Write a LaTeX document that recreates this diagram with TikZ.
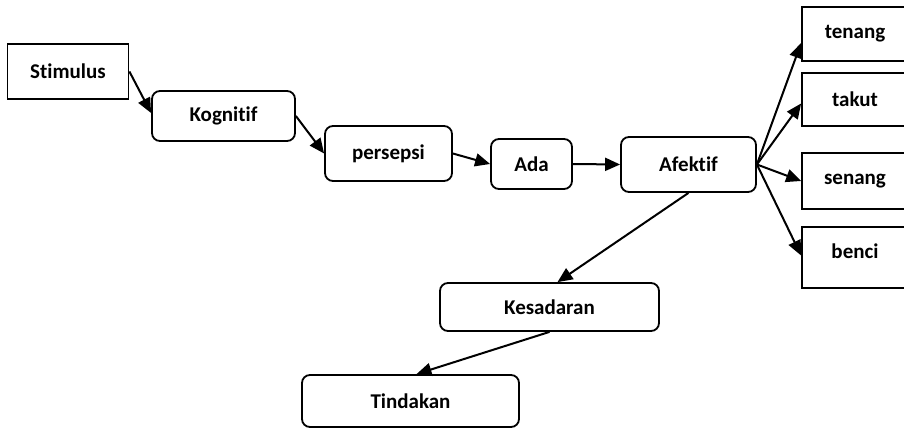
\documentclass[tikz,border=0pt]{standalone}
\usepackage{fontspec}
\setmainfont{Carlito}[Ligatures={NoCommon}]
\usetikzlibrary{arrows.meta}
\begin{document}
\begin{tikzpicture}[x=1pt,y=-1pt,
  base/.style={draw=black,line width=1.8pt,fill=white,inner sep=0pt,align=center,
    font=\fontsize{21}{24}\selectfont\bfseries},
  sqbox/.style={base},
  rbox/.style={base,rounded corners=8pt},
  arr/.style={line width=2pt,-{Triangle[length=15pt,width=13pt]}}]
\useasboundingbox (0,0) rectangle (904,428);
\node[sqbox,minimum width=121pt,minimum height=55pt] (stim) at (68,71.5) {Stimulus};
\node[rbox,minimum width=143pt,minimum height=50pt] (kog) at (223.5,116) {Kognitif};
\node[rbox,minimum width=127pt,minimum height=55pt] (pers) at (388.5,153.5) {persepsi};
\node[rbox,minimum width=81pt,minimum height=50pt] (ada) at (531.5,164) {Ada};
\node[rbox,minimum width=135pt,minimum height=55pt] (afek) at (688.5,164.5) {Afektif};
\node[sqbox,minimum width=106pt,minimum height=54pt] (ten) at (855,34) {tenang};
\node[sqbox,minimum width=106pt,minimum height=53pt] (tak) at (855,99.5) {takut};
\node[sqbox,minimum width=106pt,minimum height=56pt] (sen) at (855,181) {senang};
\node[sqbox,minimum width=106pt,minimum height=61pt,text depth=12pt] (ben) at (855,257.5) {benci};
\node[rbox,minimum width=219pt,minimum height=48pt] (kes) at (549.5,307) {Kesadaran};
\node[rbox,minimum width=217pt,minimum height=52pt] (tin) at (410.5,401) {Tindakan};
\draw[arr] (stim.east) -- ([yshift=3pt]kog.west);
\draw[arr] (kog.east) -- (pers.west);
\draw[arr] (pers.east) -- (ada.west);
\draw[arr] (ada.east) -- (afek.west);
\draw[arr] (afek.east) -- ([yshift=-9pt]ten.west);
\draw[arr] (afek.east) -- ([yshift=-4pt]tak.west);
\draw[arr] (afek.east) -- (sen.west);
\draw[arr] (afek.east) -- ([yshift=2pt]ben.west);
\draw[arr] (afek.south) -- ([xshift=8pt]kes.north);
\draw[arr] (kes.south) -- ([xshift=6pt]tin.north);
\end{tikzpicture}
\end{document}
